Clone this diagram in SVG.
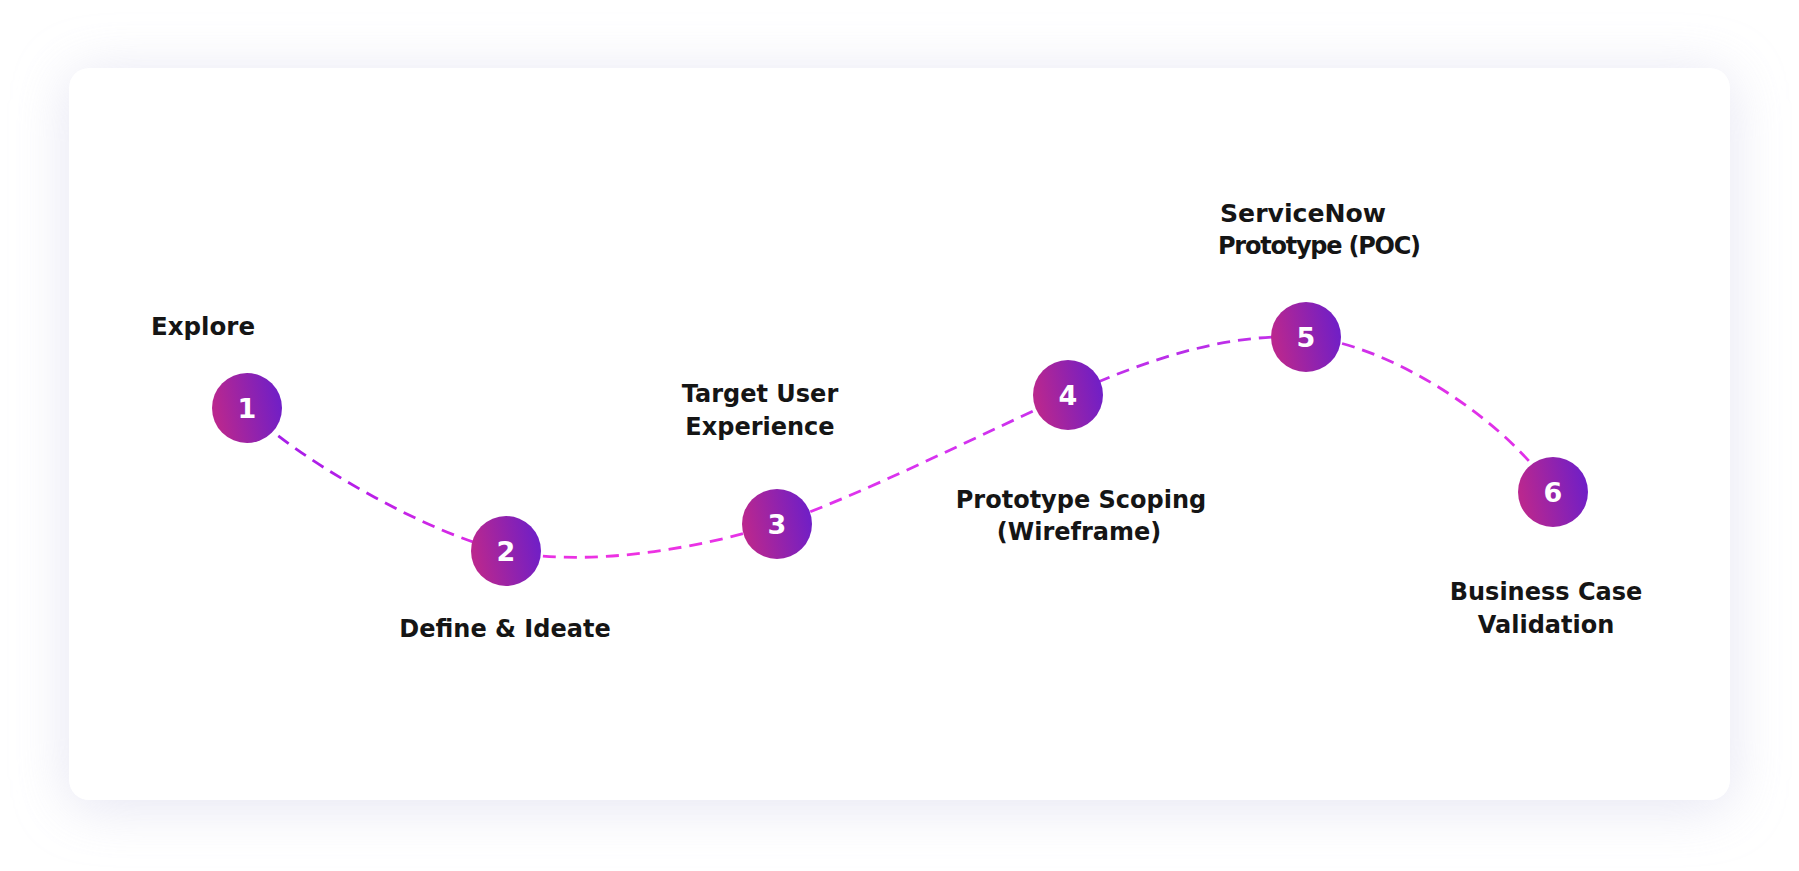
<svg xmlns="http://www.w3.org/2000/svg" width="1799" height="871" viewBox="0 0 1799 871">
  <defs>
    <filter id="shadow" x="-10%" y="-20%" width="120%" height="140%">
      <feGaussianBlur stdDeviation="28"/>
    </filter>
    <linearGradient id="nodeGrad" x1="0" y1="0.3" x2="1" y2="0.1">
      <stop offset="0" stop-color="#b9278f"/>
      <stop offset="1" stop-color="#6a1ecb"/>
    </linearGradient>
    <linearGradient id="lineGrad" gradientUnits="userSpaceOnUse" x1="247" y1="0" x2="1553" y2="0">
      <stop offset="0" stop-color="#a01ee8"/>
      <stop offset="0.09" stop-color="#b81ee8"/>
      <stop offset="0.2" stop-color="#e630e4"/>
      <stop offset="0.3" stop-color="#ee32e2"/>
      <stop offset="0.52" stop-color="#d833f0"/>
      <stop offset="0.72" stop-color="#b82ee8"/>
      <stop offset="0.82" stop-color="#c830ea"/>
      <stop offset="0.92" stop-color="#e030e8"/>
      <stop offset="1" stop-color="#e030e8"/>
    </linearGradient>
  </defs>
  <style>
    .label { font-family: "DejaVu Sans", "Liberation Sans", sans-serif; font-weight: bold; font-size: 24px; fill: #151515; }
    .num { font-family: "DejaVu Sans", "Liberation Sans", sans-serif; font-weight: bold; font-size: 27px; fill: #ffffff; text-anchor: middle; }
    .node circle { fill: url(#nodeGrad); }
    .mid { text-anchor: middle; }
  </style>
  <rect width="1799" height="871" fill="#ffffff"/>
  <rect x="69" y="74" width="1661" height="732" rx="20" fill="#dcdcee" opacity="0.75" filter="url(#shadow)"/>
  <rect x="69" y="68" width="1661" height="732" rx="20" fill="#ffffff"/>

  <g id="connectors" fill="none" stroke="url(#lineGrad)" stroke-width="2.8" stroke-dasharray="13 8" stroke-linecap="butt">
    <path d="M247,408 C290,455 430,536 506,551 C590,568 700,548 777,524 C857,497 988,431 1068,395 C1148,359 1226,333 1306,337 C1386,343 1505,418 1553,492"/>
  </g>

  <g id="node1" class="node">
    <circle cx="247" cy="408" r="35"/>
    <text class="num" x="247" y="418">1</text>
    <text class="label" x="151" y="335" textLength="104" lengthAdjust="spacingAndGlyphs">Explore</text>
  </g>
  <g id="node2" class="node">
    <circle cx="506" cy="551" r="35"/>
    <text class="num" x="506" y="561">2</text>
    <text class="label mid" x="505" y="637">Define &amp; Ideate</text>
  </g>
  <g id="node3" class="node">
    <circle cx="777" cy="524" r="35"/>
    <text class="num" x="777" y="534">3</text>
    <text class="label mid" x="760" y="402">Target User</text>
    <text class="label mid" x="760" y="435">Experience</text>
  </g>
  <g id="node4" class="node">
    <circle cx="1068" cy="395" r="35"/>
    <text class="num" x="1068" y="405">4</text>
    <text class="label mid" x="1081" y="508">Prototype Scoping</text>
    <text class="label mid" x="1079" y="540">(Wireframe)</text>
  </g>
  <g id="node5" class="node">
    <circle cx="1306" cy="337" r="35"/>
    <text class="num" x="1306" y="347">5</text>
    <text class="label" x="1220" y="222" textLength="166" lengthAdjust="spacingAndGlyphs">ServiceNow</text>
    <text class="label" x="1218" y="254" textLength="203" lengthAdjust="spacing">Prototype (POC)</text>
  </g>
  <g id="node6" class="node">
    <circle cx="1553" cy="492" r="35"/>
    <text class="num" x="1553" y="502">6</text>
    <text class="label mid" x="1546" y="600">Business Case</text>
    <text class="label mid" x="1546" y="633">Validation</text>
  </g>
</svg>
